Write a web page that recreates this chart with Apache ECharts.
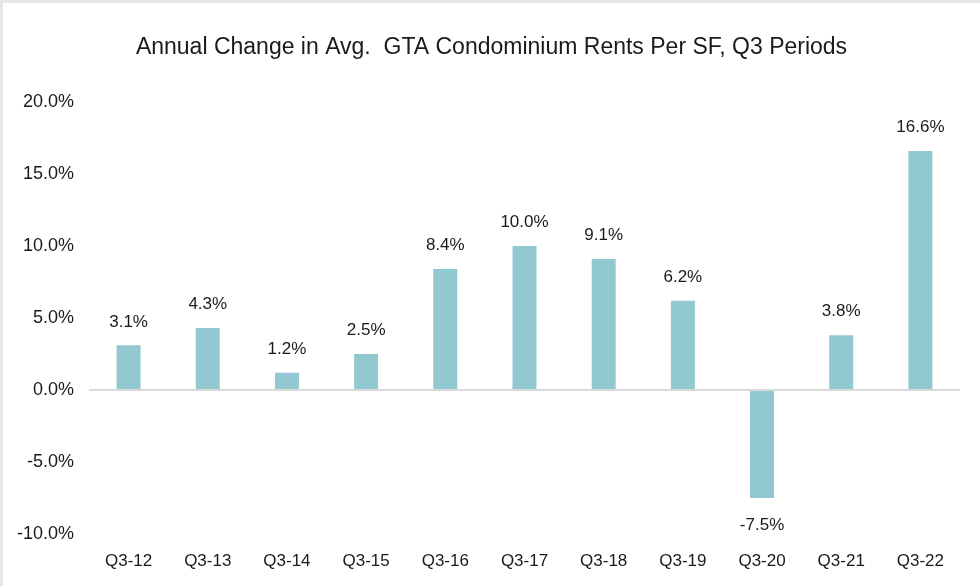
<!DOCTYPE html>
<html>
<head>
<meta charset="utf-8">
<script src="https://cdn.jsdelivr.net/npm/echarts@6/dist/echarts.min.js"></script>
<style>
html,body{margin:0;padding:0;background:#fff;}
#c{width:980px;height:586px;box-sizing:border-box;border-top:3px solid #e6e6e6;border-left:3px solid #e6e6e6;}
</style>
</head>
<body>
<div id="c"></div>
<script>
const categories = ['Q3-12','Q3-13','Q3-14','Q3-15','Q3-16','Q3-17','Q3-18','Q3-19','Q3-20','Q3-21','Q3-22'];
const values = [3.1, 4.3, 1.2, 2.5, 8.4, 10.0, 9.1, 6.2, -7.5, 3.8, 16.6];
const titleText = 'Annual Change in Avg.  GTA Condominium Rents Per SF, Q3 Periods';

const chart = echarts.init(document.getElementById('c'));
const font = 'Liberation Sans, Arial, sans-serif';
chart.setOption({
  animation: false,
  title: {
    text: titleText, left: 'center', top: 28,
    textStyle: {fontFamily: font, fontSize: 23, fontWeight: 'normal', color: '#1a1a1a'}
  },
  grid: {left: 86, right: 20, top: 99, bottom: 52},
  xAxis: {
    type: 'category', data: categories,
    axisLine: {show: false, onZero: false},
    axisTick: {show: false},
    axisLabel: {fontFamily: font, fontSize: 17, color: '#1a1a1a', margin: 19}
  },
  yAxis: {
    type: 'value', min: -10, max: 20, interval: 5,
    splitLine: {show: false},
    axisLine: {show: false}, axisTick: {show: false},
    axisLabel: {fontFamily: font, fontSize: 18, color: '#1a1a1a', margin: 15,
      formatter: v => v.toFixed(1) + '%'}
  },
  series: [{
    type: 'bar', barWidth: 24,
    data: values.map(v => ({
      value: v,
      label: {position: v < 0 ? 'bottom' : 'top', distance: v < 0 ? 19 : 15}
    })),
    itemStyle: {color: '#92C9D1'},
    label: {show: true, fontFamily: font, fontSize: 17, color: '#1a1a1a',
      formatter: p => p.value.toFixed(1) + '%'},
    markLine: {
      silent: true, symbol: 'none', label: {show: false},
      lineStyle: {color: '#d9d9d9', width: 2, type: 'solid'},
      data: [{yAxis: 0}]
    }
  }]
});
</script>
</body>
</html>
